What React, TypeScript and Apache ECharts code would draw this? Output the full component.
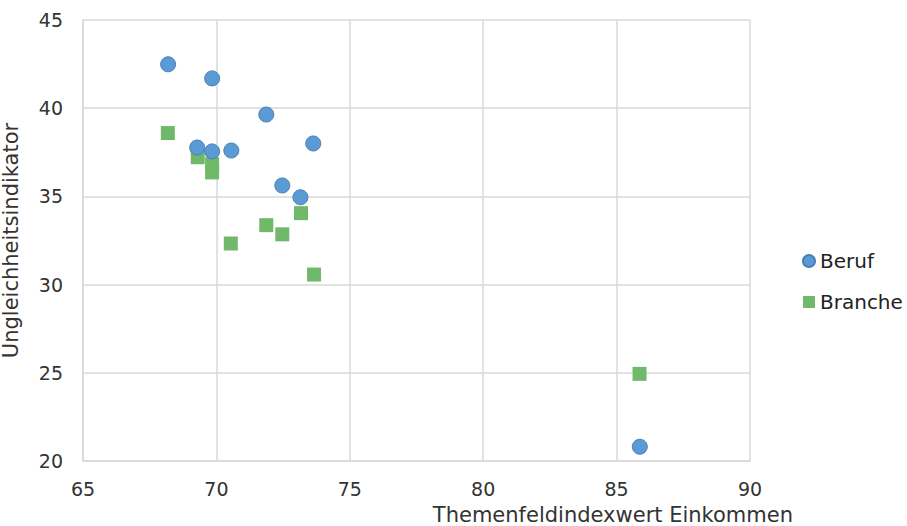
import React, { useEffect, useRef } from "react";
import * as echarts from "echarts";

const berufX = [68.19, 69.84, 71.87, 69.28, 69.84, 70.56, 73.63, 72.47, 73.15, 85.87];
const berufY = [42.49, 41.69, 39.64, 37.77, 37.55, 37.6, 38.0, 35.62, 34.95, 20.81];
const brancheX = [68.18, 69.3, 69.84, 69.84, 70.54, 71.87, 72.47, 73.17, 73.66, 85.86];
const brancheY = [38.59, 37.22, 36.83, 36.36, 32.33, 33.37, 32.85, 34.05, 30.57, 24.94];
const seriesNames = ["Beruf", "Branche"];
const xTitle = "Themenfeldindexwert Einkommen";
const yTitle = "Ungleichheitsindikator";

const FONT = "DejaVu Sans";

export default function App() {
  const ref = useRef<HTMLDivElement>(null);
  useEffect(() => {
    const chart = echarts.init(ref.current!, null, { renderer: "svg" });
    chart.setOption({
      animation: false,
      backgroundColor: "#ffffff",
      textStyle: { fontFamily: FONT },
      grid: {
        left: 83,
        right: 157,
        top: 20,
        bottom: 65,
        containLabel: false,
        outerBoundsMode: "none",
      },
      legend: {
        orient: "vertical",
        left: 797,
        top: 246,
        itemGap: 21,
        itemWidth: 12,
        itemHeight: 12,
        textStyle: { fontSize: 20, color: "#222", fontFamily: FONT },
        data: [
          { name: seriesNames[0], icon: "circle" },
          { name: seriesNames[1], icon: "rect", itemStyle: { borderWidth: 0 } },
        ],
      },
      xAxis: {
        type: "value",
        min: 65,
        max: 90,
        interval: 5,
        name: xTitle,
        nameLocation: "end",
        nameGap: 43,
        nameTextStyle: {
          fontSize: 21,
          color: "#333",
          align: "right",
          verticalAlign: "top",
          padding: [43, 0, 0, 0],
        },
        axisLine: { show: true, lineStyle: { color: "#d9d9d9", width: 1.5 } },
        axisTick: { show: false },
        axisLabel: { fontSize: 19, color: "#333", margin: 18 },
        splitLine: { show: true, lineStyle: { color: "#d9d9d9", width: 1.5 } },
      },
      yAxis: {
        type: "value",
        min: 20,
        max: 45,
        interval: 5,
        name: yTitle,
        nameLocation: "middle",
        nameGap: 62,
        nameTextStyle: { fontSize: 21, color: "#333" },
        axisLine: { show: true, lineStyle: { color: "#d9d9d9", width: 1.5 } },
        axisTick: { show: false },
        axisLabel: { fontSize: 19, color: "#333", margin: 20 },
        splitLine: { show: true, lineStyle: { color: "#d9d9d9", width: 1.5 } },
      },
      series: [
        {
          name: seriesNames[0],
          type: "scatter",
          symbol: "circle",
          symbolSize: 15,
          itemStyle: { color: "#5b9bd5", borderColor: "#4a7fb5", borderWidth: 1, opacity: 1 },
          data: berufX.map((x, i) => [x, berufY[i]]),
          z: 3,
        },
        {
          name: seriesNames[1],
          type: "scatter",
          symbol: "rect",
          symbolSize: 14,
          itemStyle: { color: "#70b96b", opacity: 1 },
          data: brancheX.map((x, i) => [x, brancheY[i]]),
          z: 2,
        },
      ],
    });
    return () => chart.dispose();
  }, []);
  return <div ref={ref} style={{ width: 907, height: 526, position: "absolute", left: 0, top: 0 }} />;
}
